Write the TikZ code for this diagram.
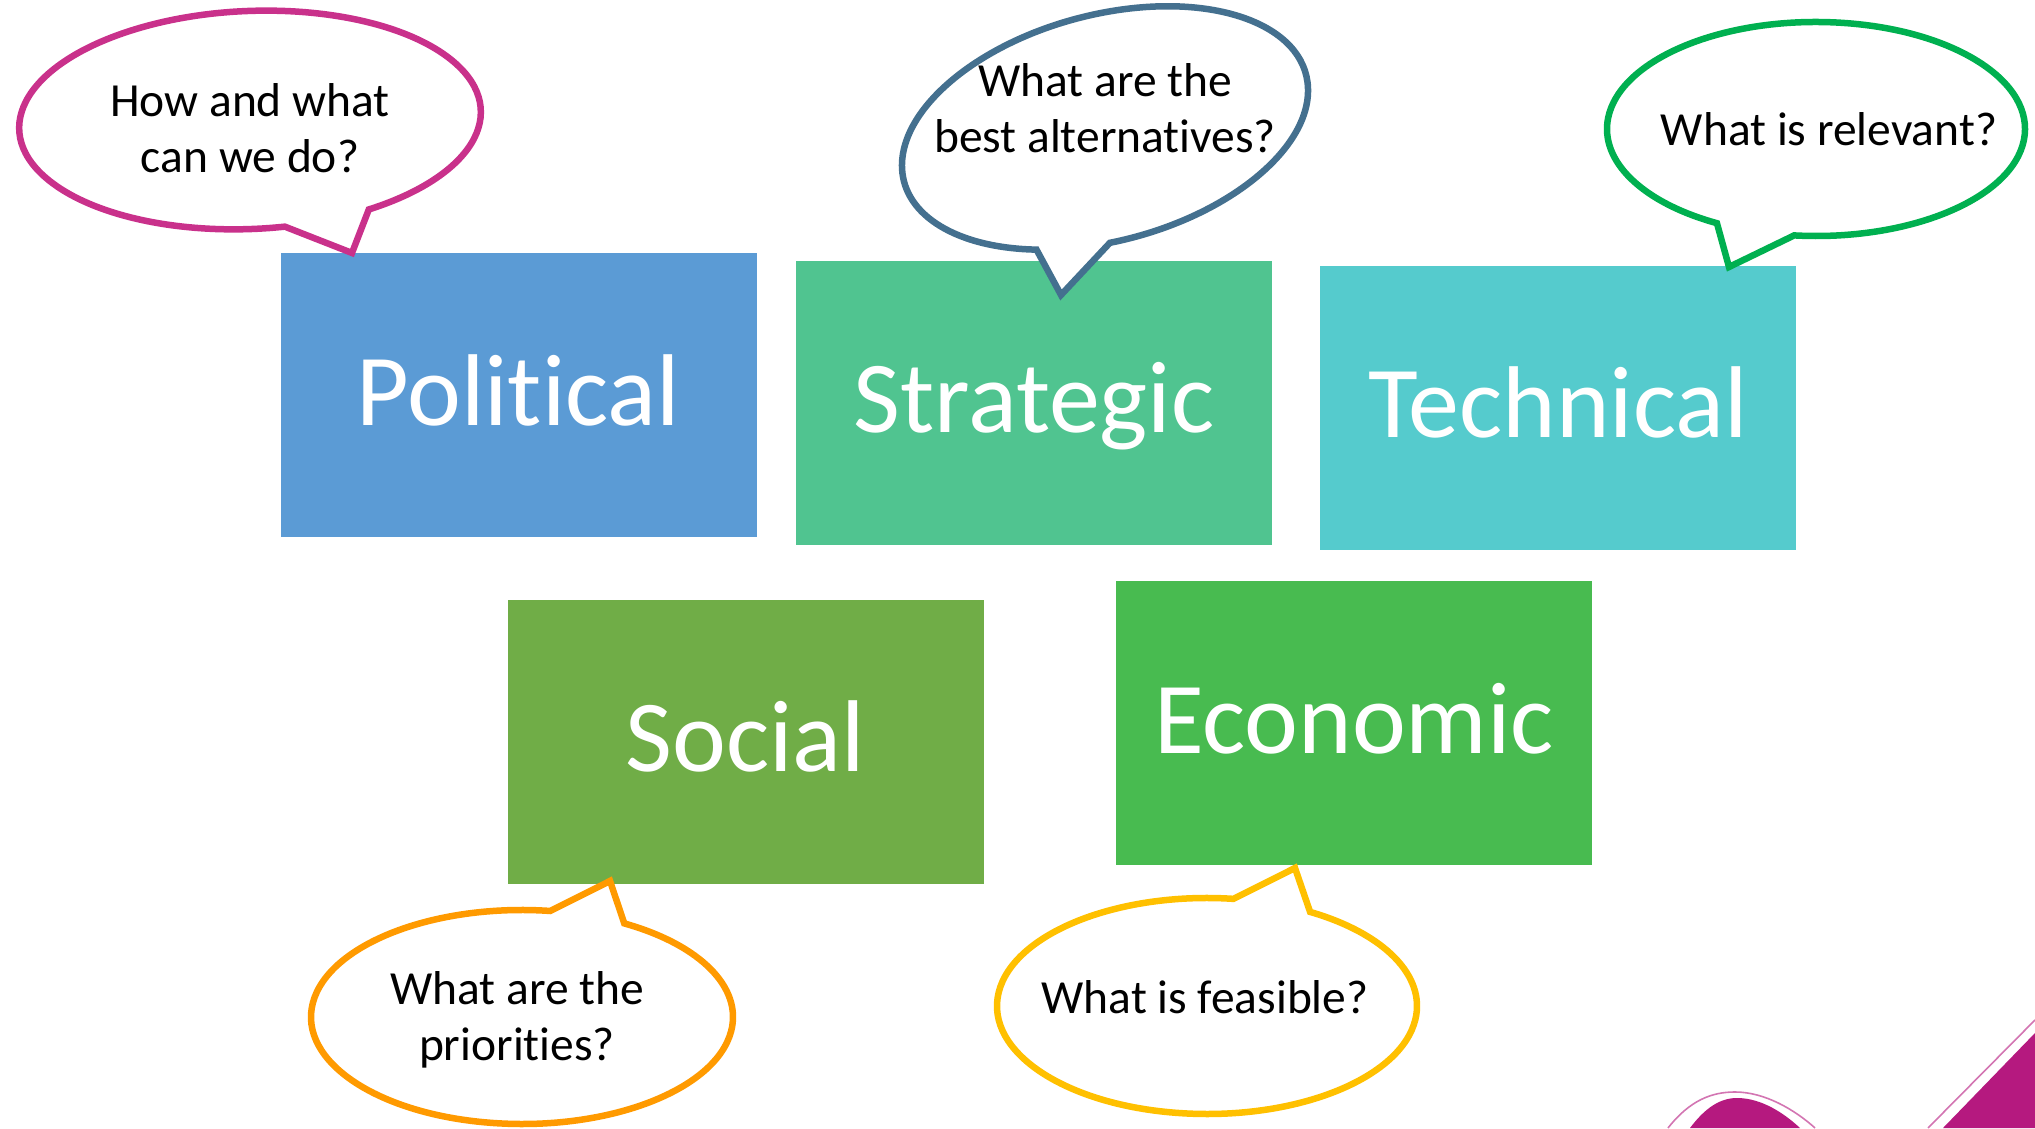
\documentclass[tikz,border=0pt]{standalone}
\usepackage{fontspec}
\setmainfont{Carlito}[RawFeature={-liga;-clig;-dlig;-calt}]
\definecolor{cPol}{HTML}{5B9BD5}
\definecolor{cStr}{HTML}{50C490}
\definecolor{cTec}{HTML}{55CBCD}
\definecolor{cSoc}{HTML}{70AD47}
\definecolor{cEco}{HTML}{48BB50}
\definecolor{cMag}{HTML}{C9318B}
\definecolor{cBlu}{HTML}{44708F}
\definecolor{cGrn}{HTML}{00B050}
\definecolor{cOrg}{HTML}{FF9A00}
\definecolor{cGld}{HTML}{FFC000}
\definecolor{cDeco}{HTML}{B5197F}
\begin{document}
\begin{tikzpicture}[x=1pt,y=1pt,
  box/.style={rectangle, inner sep=0pt, minimum width=476pt, minimum height=284pt,
    text=white, font=\fontsize{102}{120}\selectfont, text height=70pt, text depth=10pt},
  callout/.style={line width=6.5pt, fill=white, line join=miter, miter limit=20},
  qtext/.style={font=\fontsize{47.5}{56}\selectfont, align=center, anchor=base, inner sep=0pt},
  decoline/.style={draw=cDeco!60, line width=1.6pt}]
\useasboundingbox (0,0) rectangle (2035,1128);

% decorations bottom right
\draw[decoline] (1668,0) .. controls (1690,28) and (1712,36) .. (1735,36) .. controls (1765,36) and (1795,18) .. (1815,0);
\fill[cDeco] (1690,0) .. controls (1705,20) and (1720,30) .. (1737,30) .. controls (1762,30) and (1785,14) .. (1800,0) -- cycle;
\draw[decoline] (1928,0) -- (2035,108);
\fill[cDeco] (1943,0) -- (2035,95) -- (2035,0) -- cycle;

% boxes
\node[box, fill=cPol] (political) at (518.5,732.5) {Political};
\node[box, fill=cStr] (strategic) at (1034,725) {Strategic};
\node[box, fill=cTec] (technical) at (1558,720) {Technical};
\node[box, fill=cSoc] (social) at (745.5,386) {Social};
\node[box, fill=cEco] (economic) at (1354,404.5) {Economic};

% magenta callout
\begin{scope}[shift={(250,1008)}, rotate=2.5]
  \coordinate (magtip) at (96.1,-137.3);
  \draw[callout, draw=cMag] (-60.2:231 and 109) arc[start angle=-60.2, end angle=277.5, x radius=231, y radius=109] -- (magtip) -- cycle;
\end{scope}
\node[qtext] (magq) at (250,955) {How and what\\can we do?};

% blue callout
\begin{scope}[shift={(1105,1000)}, rotate=15]
  \coordinate (blutip) at (-85.7,-149.9);
  \draw[callout, draw=cBlu] (263.1:208 and 113) arc[start angle=263.1, end angle=602, x radius=208, y radius=113] -- (blutip) -- cycle;
\end{scope}
\node[qtext] (bluq) at (1105,975) {What are the\\best alternatives?};

% green callout
\begin{scope}[shift={(1816,999)}]
  \coordinate (grntip) at (-87,-138);
  \draw[callout, draw=cGrn] (264:209 and 107) arc[start angle=264, end angle=601.7, x radius=209, y radius=107] -- (grntip) -- cycle;
\end{scope}
\node[qtext] (grnq) at (1829,982) {What is relevant?};

% orange callout
\begin{scope}[shift={(522,111)}]
  \coordinate (orgtip) at (88,136);
  \draw[callout, draw=cOrg] (82.3:211 and 107) arc[start angle=82.3, end angle=421, x radius=211, y radius=107] -- (orgtip) -- cycle;
\end{scope}
\node[qtext] (orgq) at (517,68) {What are the\\priorities?};

% gold callout
\begin{scope}[shift={(1207,122)}]
  \coordinate (gldtip) at (88,138);
  \draw[callout, draw=cGld] (82.8:210 and 108) arc[start angle=82.8, end angle=420.6, x radius=210, y radius=108] -- (gldtip) -- cycle;
\end{scope}
\node[qtext] (gldq) at (1205,115) {What is feasible?};
\end{tikzpicture}
\end{document}
